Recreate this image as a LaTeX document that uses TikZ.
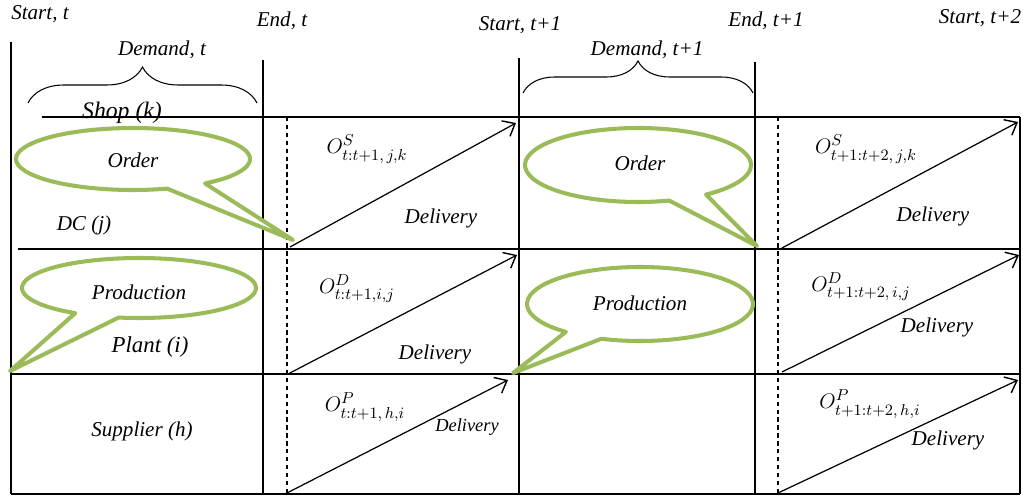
\documentclass[tikz,border=0pt]{standalone}
\usepackage{fontspec}
\setmainfont{Liberation Serif}
\usepackage{amsmath}
\usetikzlibrary{arrows.meta,decorations.pathreplacing,calc}
\definecolor{bubblegreen}{RGB}{155,187,89}

\tikzset{
  lbl/.style={font=\fontsize{12}{14}\selectfont\itshape, inner sep=0pt},
  olbl/.style={font=\fontsize{12.5}{14}\selectfont, inner sep=0pt},
  gridline/.style={line width=0.8pt},
  cutline/.style={line width=0.8pt, dash pattern=on 2.5pt off 2pt},
  flow/.style={-{Straight Barb[length=6pt,width=10pt,line width=0.8pt]}, line width=0.7pt},
  bubble/.style={draw=bubblegreen, line width=2.3pt, line join=round, fill=white},
  demand/.style={decorate, decoration={brace, amplitude=#1}, line width=0.6pt},
}

\begin{document}
\begin{tikzpicture}[x=0.02cm, y=-0.02cm]
            \useasboundingbox (0,0) rectangle (1023,496);

            % Period boundaries
            \draw[gridline] (11,42) -- (11,494);
            \draw[gridline] (263,60) -- (263,494);
            \draw[gridline] (519,58) -- (519,494);
            \draw[gridline] (755,62) -- (755,494);
            \draw[gridline] (1020,117) -- (1020,494);

            % Shop name (cut by the row line)
            \node[lbl, font=\fontsize{13.5}{15}\selectfont\itshape, anchor=base] (shop) at (122,119) {Shop (k)};

            % Echelon rows
            \draw[gridline] (42,117) -- (1020,117);
            \draw[gridline] (18,249) -- (1020,249);
            \draw[gridline] (11,374) -- (1020,374);
            \draw[gridline] (11,494) -- (1020,494);

            % Lead time marks
            \draw[cutline] (287,117) -- (287,494);
            \draw[cutline] (778,117) -- (778,494);

            % Time labels
            \node[lbl] (start0) at (40,14) {Start, t};
            \node[lbl] (end0) at (282,21) {End, t};
            \node[lbl] (start1) at (520,25) {Start, t+1};
            \node[lbl] (end1) at (766,21) {End, t+1};
            \node[lbl] (start2) at (980,18) {Start, t+2};

            % Demand braces
            \node[lbl] (dem0) at (162,50) {Demand, t};
            \node[lbl] (dem1) at (647,50) {Demand, t+1};
            \coordinate (b0l) at (28,103);
            \coordinate (b0r) at (257,103);
            \coordinate (b1l) at (523,93);
            \coordinate (b1r) at (753,93);
            \draw[demand=0.72cm] (b0l) -- (b0r);
            \draw[demand=0.64cm] (b1l) -- (b1r);

            % Row names
            \node[lbl] (dc) at (84,225) {DC (j)};
            \node[lbl, font=\fontsize{13}{15}\selectfont\itshape] (plant) at (150,347) {Plant (i)};
            \node[lbl] (supplier) at (142,431) {Supplier (h)};

            % Order bubble, period t
            \coordinate (c1) at (133,159);
            \draw[bubble] ($(c1)+(52:117 and 31)$) -- (293,240) -- ($(c1)+(73:117 and 31)$)
                arc[start angle=73, end angle=412, x radius=117, y radius=31] -- cycle;
            \node[lbl] (order0) at (133,160) {Order};

            % Production bubble, period t
            \coordinate (c2) at (139,288);
            \draw[bubble] ($(c2)+(100:117 and 30)$) -- (10,371) -- ($(c2)+(123:117 and 30)$)
                arc[start angle=123, end angle=460, x radius=117, y radius=30] -- cycle;
            \node[lbl] (prod0) at (139,292) {Production};

            % Order bubble, period t+1
            \coordinate (c3) at (638,165);
            \draw[bubble] ($(c3)+(53:113 and 37)$) -- (757,246) -- ($(c3)+(74:113 and 37)$)
                arc[start angle=74, end angle=413, x radius=113, y radius=37] -- cycle;
            \node[lbl] (order1) at (640,163) {Order};

            % Production bubble, period t+1
            \coordinate (c4) at (640,304);
            \draw[bubble] ($(c4)+(110:113 and 37)$) -- (513,373) -- ($(c4)+(131:113 and 37)$)
                arc[start angle=131, end angle=470, x radius=113, y radius=37] -- cycle;
            \node[lbl] (prod1) at (640,303) {Production};

            % Delivery arrows
            \coordinate (s0a) at (290,247);
            \coordinate (s0b) at (516,123);
            \coordinate (s1a) at (782,248);
            \coordinate (s1b) at (1018,122);
            \coordinate (d0a) at (288,374);
            \coordinate (d0b) at (517,255);
            \coordinate (d1a) at (782,372);
            \coordinate (d1b) at (1019,255);
            \coordinate (p0a) at (285,494);
            \coordinate (p0b) at (508,380);
            \coordinate (p1a) at (778,493);
            \coordinate (p1b) at (1018,380);
            \draw[flow] (s0a) -- (s0b);
            \draw[flow] (s1a) -- (s1b);
            \draw[flow] (d0a) -- (d0b);
            \draw[flow] (d1a) -- (d1b);
            \draw[flow] (p0a) -- (p0b);
            \draw[flow] (p1a) -- (p1b);

            % Order quantities
            \node[olbl] (os0) at (367,149) {$O^{S}_{t:t+1,\,j,k}$};
            \node[olbl] (os1) at (866,149) {$O^{S}_{t+1:t+2,\,j,k}$};
            \node[olbl] (od0) at (357,289) {$O^{D}_{t:t+1,i,j}$};
            \node[olbl] (od1) at (861,287) {$O^{D}_{t+1:t+2,\,i,j}$};
            \node[olbl] (op0) at (365,407) {$O^{P}_{t:t+1,\,h,i}$};
            \node[olbl] (op1) at (870,404) {$O^{P}_{t+1:t+2,\,h,i}$};

            % Delivery labels
            \node[lbl] (del1) at (441,218) {Delivery};
            \node[lbl] (del2) at (933,216) {Delivery};
            \node[lbl] (del3) at (435,354) {Delivery};
            \node[lbl] (del4) at (937,327) {Delivery};
            \node[lbl, font=\fontsize{10.5}{12}\selectfont\itshape] (del5) at (467,427) {Delivery};
            \node[lbl] (del6) at (948,440) {Delivery};
        \end{tikzpicture}
\end{document}
